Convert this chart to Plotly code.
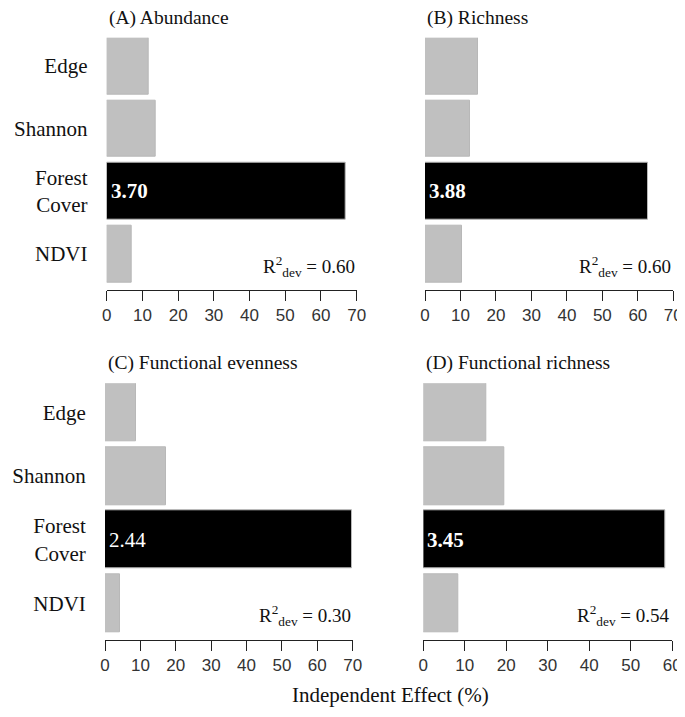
import plotly.graph_objects as go

# ---- data ----
categories = ["Edge", "Shannon", "Forest<br>Cover", "NDVI"]
abundance = [11.8, 13.8, 66.9, 7.1]
richness = [14.9, 12.8, 62.8, 10.4]
func_evenness = [8.8, 17.2, 69.9, 4.2]
func_richness = [15.2, 19.4, 58.4, 8.4]
panel_titles = ["(A) Abundance", "(B) Richness", "(C) Functional evenness", "(D) Functional richness"]
forest_labels = ["3.70", "3.88", "2.44", "3.45"]
r2_values = ["0.60", "0.60", "0.30", "0.54"]
x_max = [70, 70, 70, 60]
x_axis_title = "Independent Effect (%)"

series = [abundance, richness, func_evenness, func_richness]

# page has an 8px body margin; the figure is sized to fill the rest of the window
OFF = 8
W, H = 685 - OFF, 717 - OFF
# panel pixel boxes in window coordinates: (left, right, top, bottom)
boxes = [(106.7, 356.7, 37.7, 290), (425, 673.3, 37.7, 290),
         (105, 352.7, 383.3, 640), (423.3, 672.3, 383.3, 640)]


def px(x):
    return (x - OFF) / W


def py(y):
    return 1 - (y - OFF) / H


SERIF = "Liberation Serif"
SANS = "Liberation Sans"
GRAY = "#c0c0c0"

fig = go.Figure()
cat_order = list(reversed(categories))  # NDVI at bottom

for i, vals in enumerate(series):
    n = "" if i == 0 else str(i + 1)
    colors = [GRAY, GRAY, "#000000", GRAY]
    fig.add_trace(go.Bar(
        x=vals, y=categories, orientation="h",
        marker=dict(color=colors, line=dict(color="#b8b8b8", width=1)),
        width=0.909, xaxis="x" + n, yaxis="y" + n, showlegend=False,
        hoverinfo="x+y"))
    l, r, t, b = boxes[i]
    fig.layout["xaxis" + n] = dict(
        domain=[px(l), px(r)], anchor="y" + n, range=[0, x_max[i]],
        automargin=False,
        tickmode="array", tickvals=list(range(0, x_max[i] + 1, 10)),
        ticks="outside", ticklen=10, tickwidth=1, tickcolor="#222",
        showline=True, linecolor="#222", linewidth=1,
        showgrid=False, zeroline=False,
        tickfont=dict(family=SANS, size=17, color="#333"))
    fig.layout["yaxis" + n] = dict(
        domain=[py(b), py(t)], anchor="x" + n,
        automargin=False, autorange=False,
        type="category", categoryorder="array", categoryarray=cat_order,
        range=[-0.578, 3.4545], showgrid=False, zeroline=False, showline=False,
        showticklabels=(i % 2 == 0), ticks="outside" if i % 2 == 0 else "",
        ticklen=14, tickcolor="rgba(0,0,0,0)",
        tickfont=dict(family=SERIF, size=21, color="#111"))
    # panel title
    fig.add_annotation(text=panel_titles[i], xref="paper", yref="paper",
                       x=px(l + 0.5), y=py(t - 20), xanchor="left", yanchor="middle",
                       showarrow=False, font=dict(family=SERIF, size=19.5, color="#111"))
    # forest cover bar label
    weight = "normal" if i == 2 else "bold"
    fig.add_annotation(text=forest_labels[i], xref="x" + n, yref="y" + n,
                       x=0, y=categories[2], xanchor="left", yanchor="middle", xshift=2,
                       showarrow=False, font=dict(family=SERIF, size=21, color="white", weight=weight))
    # R2 annotation
    fig.add_annotation(text="R<sup>2</sup><sub>dev</sub> = " + r2_values[i],
                       xref="x" + n + " domain", yref="y" + n,
                       x=1, y=-0.2, xanchor="right", yanchor="middle",
                       showarrow=False, font=dict(family=SERIF, size=19, color="#111"))

fig.add_annotation(text=x_axis_title, xref="paper", yref="paper",
                   x=px(390.5), y=py(695), xanchor="center", yanchor="middle",
                   showarrow=False, font=dict(family=SERIF, size=21, color="#111"))

fig.update_layout(width=W, height=H, margin=dict(l=0, r=0, t=0, b=0, autoexpand=False),
                  paper_bgcolor="white", plot_bgcolor="white", bargap=0)

fig.write_html("out.html")
